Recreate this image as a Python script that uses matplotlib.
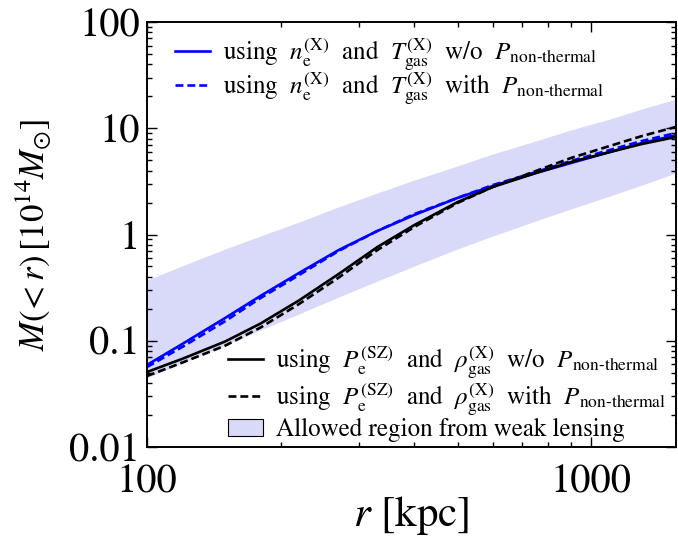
import numpy as np
import matplotlib
matplotlib.use("Agg")
import matplotlib.pyplot as plt
from matplotlib.ticker import LogLocator, FuncFormatter, NullFormatter
from matplotlib.patches import Patch
from matplotlib.lines import Line2D

plt.rcParams['font.family'] = 'STIXGeneral'
plt.rcParams['mathtext.fontset'] = 'stix'

# radius grid [kpc]
r_kpc = [100, 120, 150, 180, 220, 270, 330, 400, 500, 600, 750, 900, 1100, 1300, 1550]

# enclosed mass [1e14 Msun]
m_x_nonth_off = [0.0592, 0.0931, 0.164, 0.264, 0.435, 0.714, 1.08, 1.53, 2.21, 2.86,
                 3.79, 4.71, 5.97, 7.26, 8.6]
m_x_nonth_on = [0.0566, 0.0873, 0.153, 0.252, 0.416, 0.700, 1.08, 1.56, 2.21, 2.92,
                3.87, 4.92, 6.24, 7.59, 9.02]
m_sz_nonth_off = [0.0508, 0.0675, 0.0985, 0.145, 0.240, 0.425, 0.762, 1.23, 2.02, 2.80,
                  3.79, 4.81, 5.97, 7.11, 8.28]
m_sz_nonth_on = [0.0466, 0.0622, 0.0900, 0.133, 0.222, 0.393, 0.714, 1.18, 1.98, 2.80,
                 3.96, 5.25, 6.81, 8.45, 10.3]

# weak lensing band
wl_upper = [0.373, 0.506, 0.731, 0.968, 1.31, 1.82, 2.46, 3.26, 4.42, 5.73,
            7.59, 9.64, 12.2, 15.2, 18.8]
wl_lower = [0.0446, 0.0618, 0.0912, 0.126, 0.179, 0.258, 0.365, 0.506, 0.731, 0.968,
            1.34, 1.74, 2.30, 2.92, 3.79]

band_color = '#d9d9f9'
lw = 1.9
dash = (3.0, 1.5)

fig = plt.figure(figsize=(6.78, 5.45), dpi=100)
ax = fig.add_axes([0.2168, 0.1798, 0.7800, 0.7798])

ax.fill_between(r_kpc, wl_lower, wl_upper, color=band_color, lw=0)
ax.plot(r_kpc, m_x_nonth_off, color='#0000ff', lw=lw)
ax.plot(r_kpc, m_x_nonth_on, color='#0000ff', lw=lw, dashes=dash)
ax.plot(r_kpc, m_sz_nonth_off, color='black', lw=lw)
ax.plot(r_kpc, m_sz_nonth_on, color='black', lw=lw, dashes=dash)

ax.set_xscale('log')
ax.set_yscale('log')
ax.set_xlim(100, 1550)
ax.set_ylim(0.01, 100)

fmt = FuncFormatter(lambda v, _: f"{v:g}")
ax.xaxis.set_major_formatter(fmt)
ax.yaxis.set_major_formatter(fmt)
ax.xaxis.set_minor_formatter(NullFormatter())
ax.yaxis.set_minor_formatter(NullFormatter())
ax.yaxis.set_major_locator(LogLocator(base=10, numticks=10))
ax.yaxis.set_minor_locator(LogLocator(base=10, subs=np.arange(2, 10), numticks=10))

ax.tick_params(which='both', direction='in', top=True, right=True, width=1.0)
ax.tick_params(which='major', length=7, labelsize=29)
ax.tick_params(axis='x', which='major', pad=12)
ax.tick_params(axis='y', which='major', pad=5)
ax.tick_params(which='minor', length=3.5)
for s in ax.spines.values():
    s.set_linewidth(1.4)

ax.set_xlabel(r'$r$ [kpc]', fontsize=31, labelpad=-5)
ax.set_ylabel(r'$M(\!{<}r)\,[10^{14}M_{\odot}]$', fontsize=25, labelpad=11)

nt = r'$P_{\text{non-thermal}}$'
h_x = [Line2D([], [], color='#0000ff', lw=lw),
       Line2D([], [], color='#0000ff', lw=lw, dashes=dash)]
lab_x = [r'using  $n_{\rm e}^{\rm (X)}$  and  $T_{\rm gas}^{\rm (X)}$  w/o  ' + nt,
         r'using  $n_{\rm e}^{\rm (X)}$  and  $T_{\rm gas}^{\rm (X)}$  with  ' + nt]
leg1 = ax.legend(h_x, lab_x, loc='upper left', bbox_to_anchor=(0.02, 1.008),
                 frameon=False, fontsize=18, handlelength=1.4, handletextpad=0.5,
                 labelspacing=-0.05, borderpad=0.2)
ax.add_artist(leg1)

h_sz = [Line2D([], [], color='black', lw=lw),
        Line2D([], [], color='black', lw=lw, dashes=dash),
        Patch(facecolor=band_color, edgecolor='black', lw=0.8)]
lab_sz = [r'using  $P_{\rm e}^{\rm (SZ)}$  and  $\rho_{\rm gas}^{\rm (X)}$  w/o  ' + nt,
          r'using  $P_{\rm e}^{\rm (SZ)}$  and  $\rho_{\rm gas}^{\rm (X)}$  with  ' + nt,
          'Allowed region from weak lensing']
ax.legend(h_sz, lab_sz, loc='lower right', bbox_to_anchor=(1.015, -0.03),
          frameon=False, fontsize=18, handlelength=1.4, handletextpad=0.5,
          labelspacing=0.05, borderpad=0.2)

fig.savefig('out.png', dpi=100)
